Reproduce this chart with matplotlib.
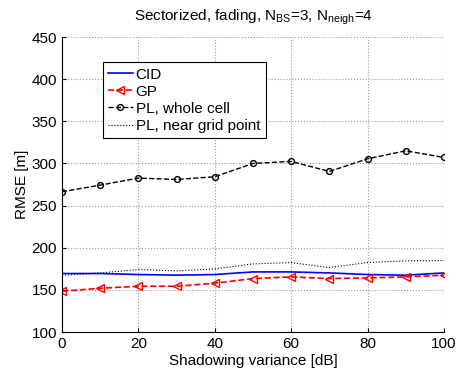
import numpy as np
import matplotlib.pyplot as plt

plt.rcParams['font.family'] = ['Liberation Sans', 'DejaVu Sans']
plt.rcParams['mathtext.fontset'] = 'custom'
plt.rcParams['mathtext.rm'] = 'Liberation Sans'

variance = [0, 10, 20, 30, 40, 50, 60, 70, 80, 90, 100]
cid = [169.4, 169.4, 168.2, 167.4, 168.2, 171.3, 171.3, 170.1, 168.2, 167.4, 170.1]
gp = [148.4, 151.9, 154.3, 154.3, 157.9, 163.4, 165.4, 163.4, 164.2, 165.4, 167.4]
pl_cell = [266.4, 274.3, 282.6, 281.0, 284.2, 300.0, 302.4, 290.5, 305.5, 315.0, 307.1]
pl_grid = [167.4, 170.1, 174.1, 172.5, 174.9, 180.8, 182.4, 176.5, 182.4, 184.4, 184.8]

fig = plt.figure(figsize=(4.61, 3.72), dpi=100)
ax = fig.add_axes([0.1345, 0.1075, 0.8285, 0.793])

ax.plot(variance, cid, '-', color='blue', lw=1.2, label='CID')
ax.plot(variance, gp, '--', color='red', lw=1.2, marker='<', ms=5.5,
        mfc='none', mec='red', label='GP')
ax.plot(variance, pl_cell, '--', color='black', lw=1.0, marker='o', ms=4.2,
        mfc='none', mec='black', label='PL, whole cell')
ax.plot(variance, pl_grid, ':', color='black', lw=0.8, label='PL, near grid point')

ax.set_xlim(0, 100)
ax.set_ylim(100, 450)
ax.set_xticks(np.arange(0, 101, 20))
ax.set_yticks(np.arange(100, 451, 50))
ax.grid(True, linestyle=':', color='#999999', lw=0.8)
ax.spines['top'].set_visible(False)
ax.spines['right'].set_visible(False)
ax.tick_params(direction='in', labelsize=11, length=3)

ax.set_xlabel('Shadowing variance [dB]', fontsize=11, labelpad=2)
ax.set_ylabel('RMSE [m]', fontsize=11, labelpad=2)
ax.set_title(r'Sectorized, fading, N$_{\mathrm{BS}}$=3, N$_{\mathrm{neigh}}$=4',
             fontsize=11, pad=12)

leg = ax.legend(loc='upper left', bbox_to_anchor=(0.107, 0.914), numpoints=1,
                fancybox=False, edgecolor='black', framealpha=1, fontsize=11,
                handlelength=1.6, handletextpad=0.2, borderpad=0.35,
                labelspacing=0.2, borderaxespad=0)
leg.get_frame().set_linewidth(0.8)

fig.savefig('out.png', dpi=100)
